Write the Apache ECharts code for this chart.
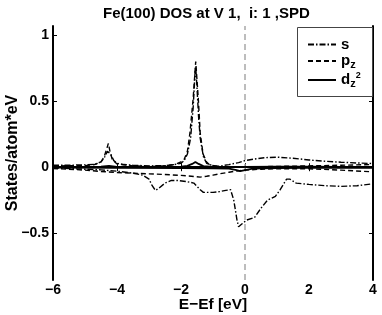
<!DOCTYPE html>
<html>
<head>
<meta charset="utf-8">
<script src="https://cdn.jsdelivr.net/npm/echarts@6/dist/echarts.min.js"></script>
<style>html,body{margin:0;padding:0;background:#fff}#c{width:382px;height:315px}</style>
</head>
<body>
<div id="c"></div>
<script>
// ---- data ----
const titleText = 'Fe(100) DOS at V 1,  i: 1 ,SPD';
const xTickValues = [-6, -4, -2, 0, 2, 4];
const yTickValues = [-0.5, 0, 0.5, 1];
const legendNames = ['s', 'pz', 'dz2'];

// s, majority (positive)
const sUp = [[-6,0.015],[-5.5,0.015],[-5,0.018],[-4.7,0.022],[-4.5,0.04],[-4.4,0.07],[-4.3,0.12],[-4.25,0.13],[-4.2,0.10],[-4.1,0.05],[-4.0,0.03],[-3.8,0.02],[-3.5,0.015],[-3.0,0.01],[-2.5,0.012],[-2.2,0.02],[-2.0,0.03],[-1.9,0.05],[-1.8,0.10],[-1.7,0.22],[-1.62,0.45],[-1.56,0.72],[-1.54,0.76],[-1.5,0.6],[-1.45,0.38],[-1.4,0.22],[-1.3,0.08],[-1.2,0.03],[-1.0,0.01],[-0.8,0.008],[-0.5,0.02],[-0.2,0.035],[0,0.05],[0.3,0.062],[0.6,0.072],[1.0,0.076],[1.5,0.068],[2.0,0.055],[2.5,0.045],[3.0,0.038],[3.5,0.032],[4.0,0.028]];
// s, minority (negative)
const sDn = [[-6,-0.005],[-5.5,-0.01],[-5,-0.015],[-4.5,-0.02],[-4,-0.03],[-3.5,-0.045],[-3.2,-0.06],[-3.0,-0.09],[-2.9,-0.14],[-2.8,-0.175],[-2.7,-0.16],[-2.5,-0.12],[-2.3,-0.10],[-2.1,-0.10],[-1.8,-0.11],[-1.6,-0.12],[-1.4,-0.17],[-1.3,-0.19],[-1.0,-0.19],[-0.8,-0.185],[-0.6,-0.175],[-0.45,-0.17],[-0.35,-0.25],[-0.25,-0.40],[-0.2,-0.45],[-0.1,-0.43],[0.05,-0.40],[0.3,-0.38],[0.5,-0.31],[0.7,-0.25],[0.95,-0.22],[1.1,-0.17],[1.3,-0.09],[1.4,-0.09],[1.6,-0.12],[2.0,-0.13],[2.5,-0.14],[3.0,-0.145],[3.5,-0.14],[4.0,-0.125]];
// pz, majority
const pzUp = [[-6,0.01],[-5,0.012],[-4.7,0.02],[-4.5,0.04],[-4.4,0.08],[-4.32,0.14],[-4.27,0.18],[-4.22,0.12],[-4.15,0.06],[-4.0,0.025],[-3.5,0.01],[-3.0,0.005],[-2.5,0.01],[-2.2,0.02],[-2.0,0.04],[-1.9,0.06],[-1.8,0.12],[-1.72,0.26],[-1.62,0.52],[-1.54,0.80],[-1.46,0.52],[-1.4,0.26],[-1.31,0.10],[-1.2,0.04],[-1.09,0.015],[-0.8,0.005],[-0.5,0.0],[0,0.002],[1,0.006],[2,0.01],[3,0.015],[4,0.02]];
// pz, minority
const pzDn = [[-6,-0.01],[-5.5,-0.015],[-5,-0.022],[-4.5,-0.032],[-4,-0.04],[-3.5,-0.045],[-3,-0.05],[-2.5,-0.055],[-2,-0.062],[-1.6,-0.07],[-1.4,-0.075],[-1.2,-0.068],[-1,-0.06],[-0.8,-0.05],[-0.5,-0.038],[-0.3,-0.03],[0,-0.022],[0.5,-0.015],[1,-0.012],[2,-0.012],[3,-0.022],[4,-0.035]];
// dz2, majority
const dzUp = [[-6,0.0],[-5,0.002],[-4.5,0.004],[-4.25,0.01],[-4,0.003],[-3,0.002],[-2,0.005],[-1.8,0.01],[-1.65,0.025],[-1.55,0.04],[-1.45,0.025],[-1.3,0.008],[-1,0.003],[-0.5,0.002],[0,0.003],[1,0.004],[2,0.004],[3,0.003],[4,0.003]];
// dz2, minority
const dzDn = [[-6,-0.003],[-4,-0.004],[-2,-0.006],[-1,-0.008],[-0.5,-0.01],[-0.3,-0.02],[-0.15,-0.03],[0,-0.022],[0.2,-0.012],[0.5,-0.008],[1,-0.006],[2,-0.005],[3,-0.005],[4,-0.005]];

const FONT = '"Liberation Sans", Arial, Helvetica, sans-serif';
const minus = v => String(v).replace('-', '\u2212');
const dashDot = [6, 2, 1.5, 2];
const dashed = [5, 3];

function mk(name, data, type, width) {
  return {
    name, type: 'line', data, symbol: 'none', showSymbol: false,
    lineStyle: { color: '#000', width: width, type: type },
    itemStyle: { color: '#000' },
    z: 3, silent: true
  };
}

const series = [
  mk('s', sUp, dashDot, 1.4),
  mk('s', sDn, dashDot, 1.4),
  mk('pz', pzUp, dashed, 1.4),
  mk('pz', pzDn, dashed, 1.4),
  mk('dz2', dzUp, 'solid', 1.8),
  mk('dz2', dzDn, 'solid', 1.8)
];
series[5].markLine = {
  silent: true, symbol: 'none', label: { show: false },
  lineStyle: { color: '#a8a8a8', type: [6, 4], width: 1.5 },
  data: [{ xAxis: 0 }], z: 1
};

const chart = echarts.init(document.getElementById('c'), null, { renderer: 'canvas' });
chart.setOption({
  animation: false,
  backgroundColor: '#fff',
  textStyle: { fontFamily: FONT },
  title: {
    text: titleText, left: 98, top: 1,
    textStyle: { fontSize: 15, fontWeight: 'bold', color: '#000', fontFamily: FONT }
  },
  grid: { left: 53, right: 9, top: 26, bottom: 35, containLabel: false, outerBoundsMode: 'none' },
  xAxis: [{
    type: 'value', min: -6, max: 4, interval: 2,
    name: 'E\u2212Ef [eV]', nameLocation: 'middle', nameGap: 17, nameMoveOverlap: false,
    nameTextStyle: { fontSize: 15.5, fontWeight: 'bold', color: '#000', fontFamily: FONT },
    axisLine: { show: true, lineStyle: { color: '#000', width: 2 } },
    axisTick: { show: true, inside: true, length: 4, lineStyle: { color: '#000', width: 1 }, customValues: xTickValues },
    axisLabel: { fontSize: 14, fontWeight: 'bold', color: '#000', margin: 3, formatter: minus, customValues: xTickValues },
    splitLine: { show: false }
  }, {
    type: 'value', min: -6, max: 4, interval: 2, position: 'top',
    axisLine: { show: true, lineStyle: { color: '#000', width: 2 } },
    axisTick: { show: true, inside: true, length: 4, lineStyle: { color: '#000', width: 1 } },
    axisLabel: { show: false }, splitLine: { show: false }
  }],
  yAxis: [{
    type: 'value', min: -0.853, max: 1.068,
    name: 'States/atom*eV', nameLocation: 'middle', nameGap: 32, nameMoveOverlap: false,
    nameTextStyle: { fontSize: 16, fontWeight: 'bold', color: '#000', fontFamily: FONT },
    axisLine: { show: true, onZero: false, lineStyle: { color: '#000', width: 2 } },
    axisTick: { show: true, inside: true, length: 4, lineStyle: { color: '#000', width: 1 }, customValues: yTickValues },
    axisLabel: { fontSize: 14, fontWeight: 'bold', color: '#000', margin: 4, formatter: minus, customValues: yTickValues },
    splitLine: { show: false }
  }, {
    type: 'value', min: -0.853, max: 1.068, position: 'right',
    axisLine: { show: true, onZero: false, lineStyle: { color: '#000', width: 2 } },
    axisTick: { show: true, inside: true, length: 4, lineStyle: { color: '#000', width: 1 }, customValues: yTickValues },
    axisLabel: { show: false }, splitLine: { show: false }
  }],
  graphic: [{
    type: 'rect', left: 297, top: 27, z: 50,
    shape: { width: 75, height: 69 },
    style: { fill: '#fff', stroke: '#444', lineWidth: 1 }
  }],
  legend: {
    data: legendNames, orient: 'vertical', left: 302, top: 32, z: 60,
    selectedMode: false, itemWidth: 28, itemHeight: 12, itemGap: 1,
    itemStyle: { opacity: 0 },
    formatter: n => n === 's' ? '{a|s}' : n === 'pz' ? '{a|p}{b|z}' : '{a|d}{b|z}{c|2}',
    textStyle: {
      color: '#000', fontFamily: FONT,
      rich: {
        a: { fontSize: 15, fontWeight: 'bold', color: '#000', fontFamily: FONT, lineHeight: 18, verticalAlign: 'middle' },
        b: { fontSize: 11, fontWeight: 'bold', color: '#000', fontFamily: FONT, lineHeight: 10, verticalAlign: 'bottom', padding: [6, 0, 0, 0] },
        c: { fontSize: 9, fontWeight: 'bold', color: '#000', fontFamily: FONT, lineHeight: 10, verticalAlign: 'top' }
      }
    }
  },
  series
});
</script>
</body>
</html>
